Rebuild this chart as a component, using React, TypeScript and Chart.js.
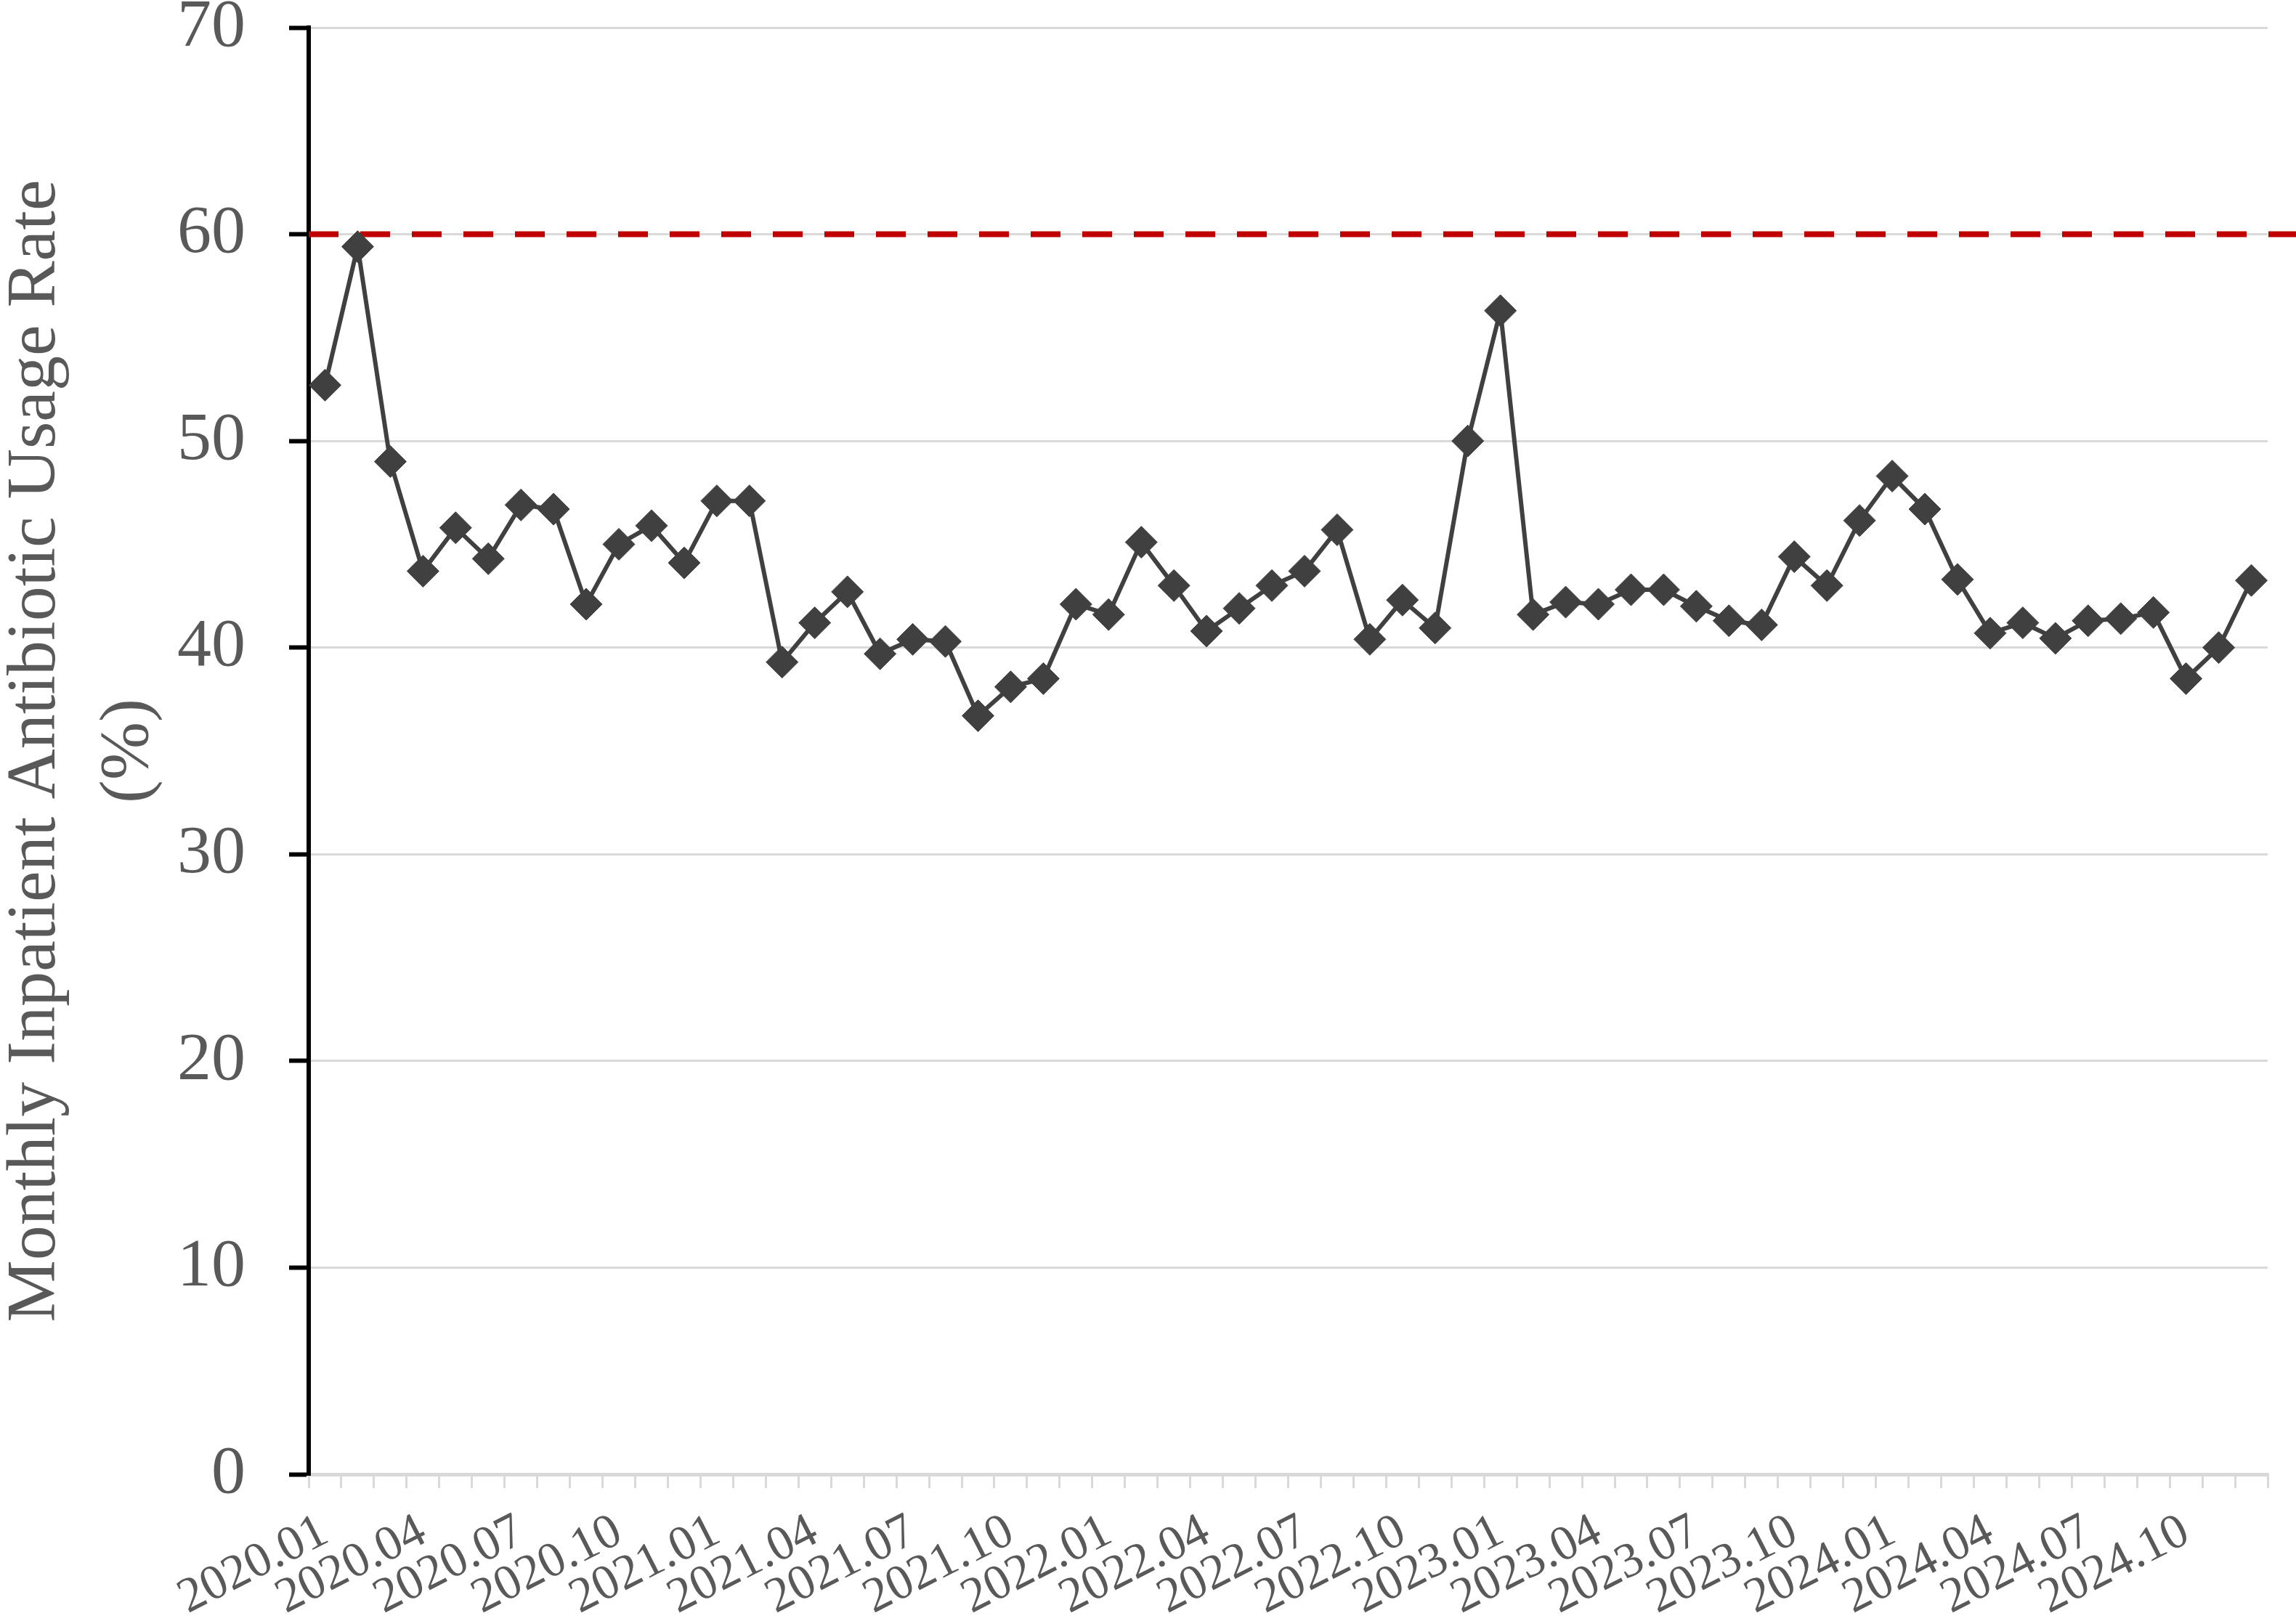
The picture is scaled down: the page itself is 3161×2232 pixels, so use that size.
import React, { useEffect, useRef } from 'react';
import { Chart, registerables } from 'chart.js';

Chart.register(...registerables);

const categories = [
  '2020.01', '2020.02', '2020.03', '2020.04', '2020.05', '2020.06', '2020.07', '2020.08', '2020.09', '2020.10', '2020.11', '2020.12',
  '2021.01', '2021.02', '2021.03', '2021.04', '2021.05', '2021.06', '2021.07', '2021.08', '2021.09', '2021.10', '2021.11', '2021.12',
  '2022.01', '2022.02', '2022.03', '2022.04', '2022.05', '2022.06', '2022.07', '2022.08', '2022.09', '2022.10', '2022.11', '2022.12',
  '2023.01', '2023.02', '2023.03', '2023.04', '2023.05', '2023.06', '2023.07', '2023.08', '2023.09', '2023.10', '2023.11', '2023.12',
  '2024.01', '2024.02', '2024.03', '2024.04', '2024.05', '2024.06', '2024.07', '2024.08', '2024.09', '2024.10', '2024.11', '2024.12',
];

const usageRate2020 = [52.7, 59.4, 49.0, 43.7, 45.8, 44.3, 46.9, 46.7, 42.1, 45.0, 45.9, 44.1];
const usageRate2021 = [47.1, 47.1, 39.3, 41.2, 42.7, 39.7, 40.4, 40.3, 36.7, 38.1, 38.5, 42.1];
const usageRate2022 = [41.6, 45.1, 43.0, 40.8, 41.9, 43.0, 43.7, 45.7, 40.4, 42.3, 40.95, 50.0];
const usageRate2023 = [56.3, 41.6, 42.2, 42.1, 42.8, 42.8, 42.0, 41.3, 41.1, 44.4, 43.0, 46.15];
const usageRate2024 = [48.3, 46.7, 43.3, 40.7, 41.2, 40.45, 41.3, 41.4, 41.7, 38.5, 40.0, 43.25];

const usageRate = [...usageRate2020, ...usageRate2021, ...usageRate2022, ...usageRate2023, ...usageRate2024];

const referenceRate = 60;
const yMin = 0;
const yMax = 70;
const yStep = 10;
const labelEvery = 3;

const yTitle = ['Monthly Inpatient Antibiotic Usage Rate', '(%)'];

const FONT = '"Liberation Serif", "Times New Roman", serif';
const TEXT = '#595959';
const GRID = '#d9d9d9';
const SERIES = '#404040';

const refLinePlugin = {
  id: 'refLine',
  beforeDatasetsDraw(chart: any) {
    const y = chart.scales.y.getPixelForValue(referenceRate);
    const ctx = chart.ctx;
    ctx.save();
    ctx.strokeStyle = '#C00000';
    ctx.lineWidth = 8;
    ctx.setLineDash([41, 30]);
    ctx.beginPath();
    ctx.moveTo(chart.chartArea.left, y);
    ctx.lineTo(chart.width, y);
    ctx.stroke();
    ctx.restore();
  },
};

export default function App() {
  const ref = useRef<HTMLCanvasElement>(null);

  useEffect(() => {
    if (!ref.current) return;
    const chart = new Chart(ref.current, {
      type: 'line',
      data: {
        labels: categories,
        datasets: [
          {
            data: usageRate,
            borderColor: SERIES,
            borderWidth: 6,
            pointStyle: 'rectRot',
            pointRadius: 22,
            pointBackgroundColor: SERIES,
            pointBorderColor: SERIES,
            pointBorderWidth: 1,
            tension: 0,
            fill: false,
          },
        ],
      },
      options: {
        responsive: false,
        animation: false,
        devicePixelRatio: 1,
        layout: { padding: { left: 0, right: 39, top: 0, bottom: 0 } },
        plugins: {
          legend: { display: false },
          tooltip: { enabled: false },
        },
        scales: {
          x: {
            type: 'category',
            offset: true,
            grid: {
              display: true,
              drawOnChartArea: false,
              offset: true,
              color: GRID,
              lineWidth: 3,
              tickColor: GRID,
              tickWidth: 3,
              tickLength: 19,
            },
            border: { display: true, color: GRID, width: 5 },
            ticks: {
              autoSkip: false,
              maxRotation: 27,
              minRotation: 27,
              padding: 20,
              color: TEXT,
              font: { family: FONT, size: 68 },
              callback: (_v: any, i: number) => (i % labelEvery === 0 ? categories[i] : ''),
            },
            afterFit: (s: any) => {
              s.height = 202;
              s.paddingLeft = 0;
              s.paddingRight = 0;
            },
          },
          y: {
            min: yMin,
            max: yMax,
            ticks: {
              stepSize: yStep,
              padding: 60,
              color: TEXT,
              font: { family: FONT, size: 94, lineHeight: 0.84 },
            },
            grid: {
              color: GRID,
              lineWidth: 3,
              tickColor: '#000000',
              tickWidth: 6,
              tickLength: 27,
            },
            border: { display: true, color: '#000000', width: 6 },
            title: {
              display: true,
              text: yTitle,
              color: TEXT,
              font: { family: FONT, size: 96, lineHeight: 1.33 },
              padding: { top: -14, bottom: 0 },
            },
            afterFit: (s: any) => {
              s.width = 425;
              s.paddingTop = 38;
              s.paddingBottom = 0;
            },
          },
        },
      },
      plugins: [refLinePlugin],
    } as any);
    return () => chart.destroy();
  }, []);

  return (
    <div style={{ position: 'fixed', left: 0, top: 0, width: 3161, height: 2232, background: '#ffffff' }}>
      <canvas ref={ref} width={3161} height={2232} style={{ width: 3161, height: 2232, display: 'block' }} />
    </div>
  );
}
